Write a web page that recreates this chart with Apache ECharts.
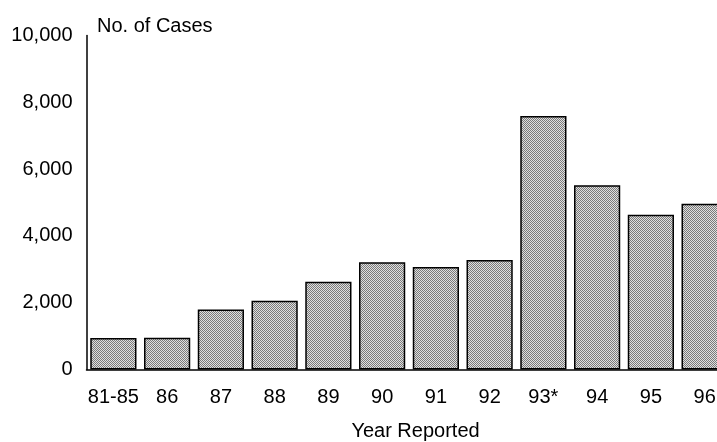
<!DOCTYPE html>
<html>
<head>
<meta charset="utf-8">
<script src="https://cdn.jsdelivr.net/npm/echarts@6/dist/echarts.min.js"></script>
<style>
html,body{margin:0;padding:0;background:#fff;}
#c{width:717px;height:442px;}
</style>
</head>
<body>
<div id="c"></div>
<script>
const categories = ['81-85','86','87','88','89','90','91','92','93*','94','95','96'];
const cases = [940, 950, 1800, 2060, 2630, 3210, 3070, 3280, 7590, 5520, 4630, 4960];
const yTicks = [0, 2000, 4000, 6000, 8000, 10000];

// stipple pattern
const pc = document.createElement('canvas');
pc.width = 2; pc.height = 2;
const pctx = pc.getContext('2d');
pctx.fillStyle = '#e0e0e0'; pctx.fillRect(0,0,2,2);
pctx.fillStyle = '#7a7a7a'; pctx.fillRect(0,0,1,1); pctx.fillRect(1,1,1,1);

const chart = echarts.init(document.getElementById('c'), null, {renderer:'canvas'});
const font = 'Liberation Sans, Arial, Helvetica, sans-serif';
chart.setOption({
  animation: false,
  backgroundColor: '#fff',
  grid: {left: 86.5, width: 645, top: 35.5, bottom: 72.5, containLabel: false, outerBoundsMode: 'none'},
  title: {
    text: 'No. of Cases', left: 92, top: 11,
    textStyle: {fontFamily: font, fontSize: 20, fontWeight: 'normal', color: '#000'}
  },
  graphic: [{
    type: 'text', x: 415.5, y: 431,
    style: {text: 'Year Reported', fontFamily: font, fontSize: 20, fill: '#000', align: 'center', verticalAlign: 'middle'}
  }],
  xAxis: {
    type: 'category',
    data: categories,
    axisLine: {lineStyle: {color: '#000', width: 1.5}},
    axisTick: {show: false},
    axisLabel: {fontFamily: font, fontSize: 20, color: '#000', margin: 18, interval: 0}
  },
  yAxis: {
    type: 'value',
    min: yTicks[0], max: yTicks[yTicks.length-1], interval: yTicks[1]-yTicks[0],
    axisLine: {show: true, lineStyle: {color: '#000', width: 1.5}},
    axisTick: {show: false},
    splitLine: {show: false},
    axisLabel: {
      fontFamily: font, fontSize: 20, color: '#000', margin: 14,
      formatter: v => v.toLocaleString('en-US')
    }
  },
  series: [{
    type: 'bar',
    data: cases,
    barCategoryGap: '14%',
    itemStyle: {
      color: {image: pc, repeat: 'repeat'},
      borderColor: '#000', borderWidth: 1.5
    }
  }]
});
</script>
</body>
</html>
